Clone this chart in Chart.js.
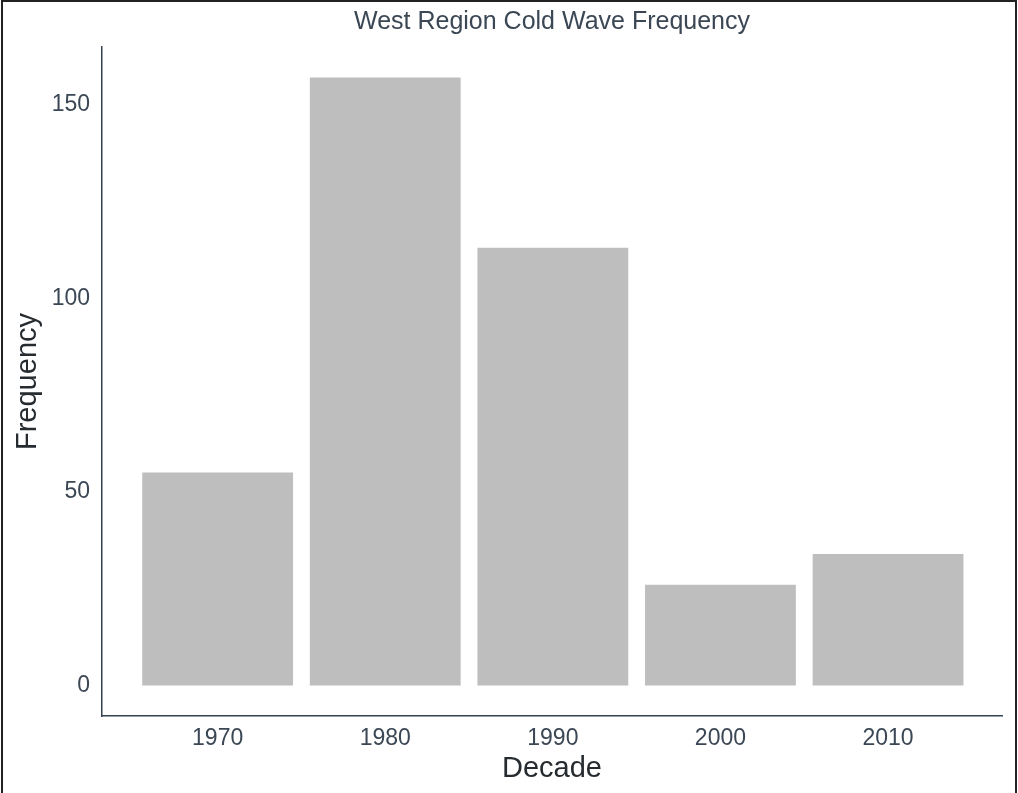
<!DOCTYPE html>
<html>
<head>
<meta charset="utf-8">
<script src="https://cdn.jsdelivr.net/npm/chart.js@4.4.1/dist/chart.umd.min.js"></script>
<style>
html,body{margin:0;padding:0;background:#fff;}
#wrap{position:relative;width:1018px;height:793px;}
</style>
</head>
<body>
<div id="wrap"><canvas id="c" width="1018" height="793"></canvas></div>
<script>
const chartTitle = "West Region Cold Wave Frequency";
const decades = [1970, 1980, 1990, 2000, 2010];
const frequency = [55, 157, 113, 26, 34];
const yTicks = [0, 50, 100, 150];

const textColor = "#3b4754";
const axisColor = "#34434f";
const titleColor = "#262b30";

const titlePlugin = {
  id: "customTitle",
  afterDraw(chart) {
    const ctx = chart.ctx;
    const a = chart.chartArea;
    ctx.save();
    ctx.fillStyle = textColor;
    ctx.font = "25px 'Liberation Sans', Arial, sans-serif";
    ctx.textAlign = "center";
    ctx.textBaseline = "middle";
    ctx.fillText(chartTitle, (a.left + a.right) / 2, 22);
    ctx.strokeStyle = "#222";
    ctx.lineWidth = 2;
    ctx.beginPath();
    ctx.moveTo(2, 793); ctx.lineTo(2, 1); ctx.lineTo(1016, 1); ctx.lineTo(1016, 793);
    ctx.stroke();
    ctx.restore();
  }
};

new Chart(document.getElementById("c"), {
  type: "bar",
  data: {
    datasets: [{
      data: decades.map((d, i) => ({ x: d, y: frequency[i] })),
      backgroundColor: "#bebebe",
      borderWidth: 0,
      barPercentage: 0.9,
      categoryPercentage: 1.0
    }]
  },
  options: {
    responsive: false,
    animation: false,
    devicePixelRatio: 1,
    layout: { padding: { top: 47, right: 16, left: 0, bottom: 0 } },
    plugins: { legend: { display: false }, title: { display: false }, tooltip: { enabled: false } },
    scales: {
      x: {
        type: "linear",
        offset: false,
        min: 1963.1,
        max: 2016.8,
        afterBuildTicks: (s) => { s.ticks = decades.map(v => ({ value: v })); },
        afterFit: (s) => { s.height = 77; },
        grid: { display: false, drawTicks: false, offset: false },
        border: { display: true, color: axisColor, width: 1.5 },
        ticks: {
          color: textColor,
          font: { family: "'Liberation Sans', Arial, sans-serif", size: 23 },
          padding: 9,
          callback: (v) => String(v),
          maxRotation: 0
        },
        title: {
          display: true,
          text: "Decade",
          color: titleColor,
          font: { family: "'Liberation Sans', Arial, sans-serif", size: 29 },
          padding: { top: 0, bottom: 7 }
        }
      },
      y: {
        min: -7.85,
        max: 164.85,
        afterBuildTicks: (s) => { s.ticks = yTicks.map(v => ({ value: v })); },
        afterFit: (s) => { s.width = 102; },
        grid: { display: false, drawTicks: false },
        border: { display: true, color: axisColor, width: 1.5 },
        ticks: {
          color: textColor,
          font: { family: "'Liberation Sans', Arial, sans-serif", size: 23 },
          padding: 12
        },
        title: {
          display: true,
          text: "Frequency",
          color: titleColor,
          font: { family: "'Liberation Sans', Arial, sans-serif", size: 29 },
          padding: { top: 11, bottom: 0 }
        }
      }
    }
  },
  plugins: [titlePlugin]
});
</script>
</body>
</html>
